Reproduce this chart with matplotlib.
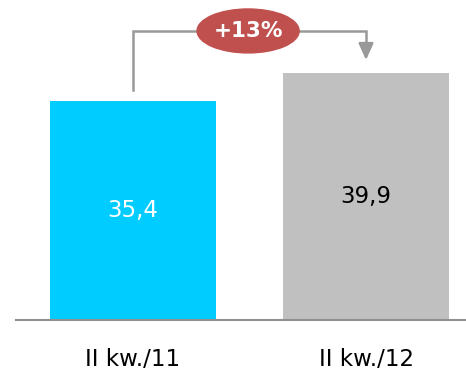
import matplotlib.pyplot as plt
from matplotlib.patches import Ellipse

labels = ['II kw./11', 'II kw./12']
values = [35.4, 39.9]
value_text = ['35,4', '39,9']
colors = ['#00CCFF', '#C0C0C0']
text_colors = ['white', 'black']
change = '+13%'

fig = plt.figure(figsize=(4.66, 3.7), dpi=100)
ax = fig.add_axes([16/466, 50/370, 450/466, 320/370])

x = range(len(values))
ax.bar(x, values, width=0.712, color=colors)
for i, v in enumerate(values):
    ax.text(i, v/2, value_text[i], ha='center', va='center', fontsize=16.5, color=text_colors[i])

ax.set_xlim(-0.502, 1.429)
ax.set_ylim(0, 51.7)
ax.set_yticks([])
ax.set_xticks(list(x))
ax.set_xticklabels(labels, fontsize=16.5)
ax.tick_params(axis='x', length=0, pad=20)
for s in ['top', 'right', 'left']:
    ax.spines[s].set_visible(False)
ax.spines['bottom'].set_color('#909090')
ax.spines['bottom'].set_linewidth(1.5)

# bracket with arrow
top = 46.7
ax.plot([0, 0, 1, 1], [values[0] + 1.8, top, top, 44.6], color='#999999', lw=1.8,
        solid_joinstyle='miter', clip_on=False)
ax.annotate('', xy=(1, 42.0), xytext=(1, 44.8),
            arrowprops=dict(arrowstyle='-|>,head_width=0.45,head_length=1.0',
                            color='#999999', lw=1.8, shrinkA=0, shrinkB=0))
ax.add_patch(Ellipse((0.494, top), 0.438, 7.1, color='#C0504D', clip_on=False, zorder=3))
ax.text(0.494, top, change, ha='center', va='center', fontsize=15.5, fontweight='bold',
        color='white', zorder=4)

fig.savefig('out.png', dpi=100)
